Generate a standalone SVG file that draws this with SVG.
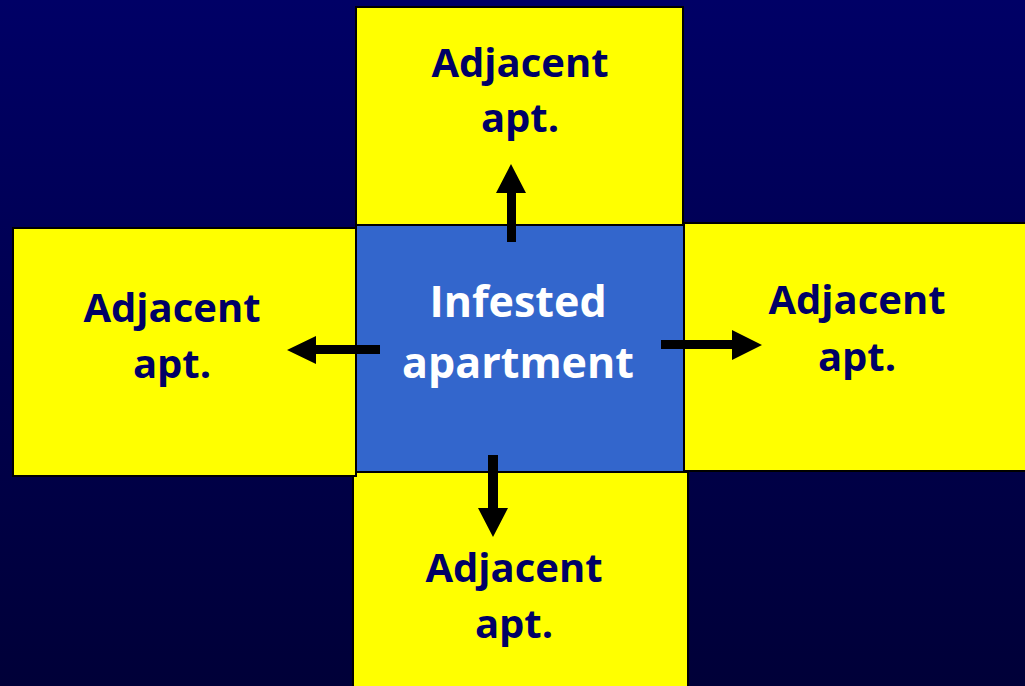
<svg xmlns="http://www.w3.org/2000/svg" width="1025" height="686" viewBox="0 0 1025 686">
<defs>
<linearGradient id="bg" x1="0" y1="0" x2="0" y2="1">
<stop offset="0" stop-color="#000066"/>
<stop offset="1" stop-color="#000038"/>
</linearGradient>
</defs>
<style>
.adj rect{fill:#FFFF00;stroke:#000000;stroke-width:2}
.adj text{font-family:"Open Sans","Liberation Sans",sans-serif;font-weight:bold;font-size:40px;fill:#000066;text-anchor:middle}
.ctr rect{fill:#3366CC;stroke:#000000;stroke-width:2}
.ctr text{font-family:"Open Sans","Liberation Sans",sans-serif;font-weight:bold;font-size:43px;fill:#FFFFFF;text-anchor:middle}
.arr{fill:#000000}
</style>
<rect x="0" y="0" width="1025" height="686" fill="url(#bg)"/>
<g id="top" class="adj">
<rect x="356" y="7" width="327" height="219"/>
<text x="520" y="77">Adjacent</text>
<text x="520" y="132">apt.</text>
</g>
<g id="bottom" class="adj">
<rect x="353" y="472" width="335" height="220"/>
<text x="514" y="582">Adjacent</text>
<text x="514" y="638">apt.</text>
</g>
<g id="left" class="adj">
<rect x="13" y="228" width="343" height="248"/>
<text x="172" y="322">Adjacent</text>
<text x="172" y="378">apt.</text>
</g>
<g id="right" class="adj">
<rect x="684" y="223" width="345" height="248"/>
<text x="857" y="314">Adjacent</text>
<text x="857" y="371">apt.</text>
</g>
<g id="center" class="ctr">
<rect x="356" y="225" width="328" height="247"/>
<text x="518" y="317">Infested</text>
<text x="518" y="378">apartment</text>
</g>
<g id="connectors" class="arr">
<polygon points="507,242 516,242 516,193 526,193 511,164 496,193 507,193"/>
<polygon points="380,345 380,354 316,354 316,364 287,350 316,336 316,345"/>
<polygon points="661,340 661,349 732,349 732,360 762,345 732,330 732,340"/>
<polygon points="488,455 498,455 498,508 508,508 493,537 478,508 488,508"/>
</g>
</svg>
